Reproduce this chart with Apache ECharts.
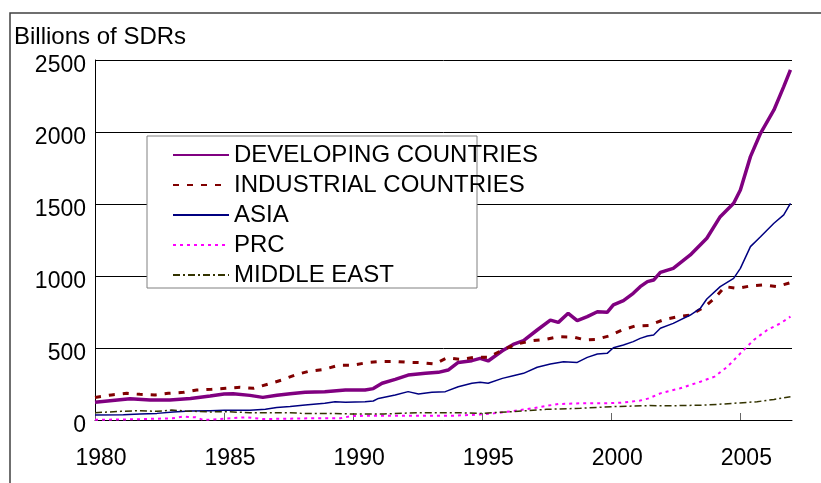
<!DOCTYPE html>
<html>
<head>
<meta charset="utf-8">
<script src="https://cdn.jsdelivr.net/npm/echarts@6/dist/echarts.min.js"></script>
<style>
  html, body { margin: 0; padding: 0; background: #fff; }
  #chart { width: 821px; height: 483px; }
</style>
</head>
<body>
<div id="chart"></div>
<script>
// values, billions of SDRs
const devYears = [1980.0, 1980.58, 1981.36, 1982.13, 1982.9, 1983.7, 1984.46, 1985.0, 1985.35, 1986.0, 1986.5, 1987.05, 1987.56, 1988.14, 1988.9, 1989.7, 1990.46, 1990.78, 1991.12, 1991.63, 1992.13, 1992.8, 1993.3, 1993.68, 1994.07, 1994.6, 1994.92, 1995.23, 1995.78, 1996.2, 1996.6, 1997.13, 1997.64, 1997.95, 1998.33, 1998.68, 1999.07, 1999.46, 1999.84, 2000.08, 2000.47, 2000.85, 2001.12, 2001.4, 2001.64, 2001.9, 2002.4, 2003.06, 2003.7, 2004.22, 2004.74, 2005.0, 2005.39, 2005.78, 2006.3, 2006.68, 2006.94]
const devValues = [123, 134, 148, 139, 139, 150, 167, 180, 183, 171, 157, 172, 183, 192, 197, 208, 208, 218, 255, 282, 312, 324, 331, 347, 400, 412, 428, 410, 481, 525, 551, 625, 694, 678, 741, 690, 718, 752, 748, 799, 829, 880, 926, 961, 972, 1025, 1053, 1146, 1262, 1412, 1505, 1597, 1829, 1991, 2153, 2315, 2431]

const indYears = [1980.0, 1980.64, 1981.23, 1981.74, 1982.33, 1982.84, 1983.43, 1983.94, 1984.52, 1985.07, 1985.62, 1986.14, 1986.72, 1987.24, 1987.82, 1988.29, 1988.89, 1989.43, 1989.95, 1990.53, 1991.08, 1991.63, 1992.18, 1992.66, 1993.15, 1993.63, 1994.15, 1994.7, 1995.23, 1995.78, 1996.36, 1996.94, 1997.45, 1997.95, 1998.54, 1998.99, 1999.42, 1999.9, 2000.42, 2000.93, 2001.45, 2002.07, 2002.59, 2003.08, 2003.62, 2004.0, 2004.4, 2004.9, 2005.39, 2005.9, 2006.42, 2006.94]
const indValues = [157, 174, 185, 178, 174, 185, 192, 208, 213, 220, 227, 220, 250, 278, 317, 338, 352, 380, 380, 398, 407, 407, 400, 398, 389, 431, 421, 435, 435, 486, 528, 551, 560, 579, 576, 556, 560, 583, 625, 653, 657, 699, 718, 729, 787, 845, 926, 914, 931, 938, 926, 954]

const asiaYears = [1980.0, 1981.1, 1981.74, 1982.4, 1983.03, 1983.68, 1984.46, 1985.0, 1986.0, 1986.6, 1987.04, 1987.56, 1988.14, 1988.9, 1989.3, 1989.7, 1990.46, 1990.78, 1990.98, 1991.63, 1992.13, 1992.53, 1993.05, 1993.57, 1994.07, 1994.6, 1994.92, 1995.23, 1995.78, 1996.2, 1996.6, 1997.13, 1997.64, 1998.15, 1998.68, 1999.07, 1999.46, 1999.84, 2000.08, 2000.47, 2000.85, 2001.12, 2001.4, 2001.64, 2001.9, 2002.4, 2003.06, 2003.45, 2003.7, 2004.22, 2004.74, 2005.0, 2005.39, 2005.78, 2006.3, 2006.68, 2006.94]
const asiaValues = [35, 37, 42, 46, 56, 62, 65, 67, 67, 74, 86, 93, 104, 116, 127, 123, 127, 132, 150, 174, 197, 181, 192, 197, 231, 255, 262, 255, 289, 308, 324, 366, 389, 405, 400, 435, 458, 463, 502, 521, 544, 567, 583, 590, 637, 671, 729, 776, 840, 926, 984, 1053, 1204, 1273, 1366, 1424, 1505]

const prcYears = [1980.0, 1981.0, 1982.0, 1983.0, 1983.4, 1983.9, 1984.2, 1985.0, 1985.88, 1986.5, 1987.5, 1988.3, 1989.5, 1989.95, 1991.2, 1992.5, 1993.85, 1994.6, 1994.92, 1995.44, 1996.2, 1996.94, 1997.45, 1997.95, 1998.8, 1999.84, 2000.36, 2001.12, 2001.45, 2001.9, 2002.67, 2003.45, 2004.0, 2004.5, 2005.0, 2005.52, 2006.04, 2006.55, 2006.94]
const prcValues = [2, 3, 7, 12, 23, 19, 0, 9, 19, 7, 9, 12, 12, 28, 30, 30, 30, 35, 39, 46, 62, 81, 97, 111, 116, 116, 120, 135, 150, 185, 220, 266, 301, 370, 463, 556, 625, 671, 718]

const meYears = [1980.0, 1981.0, 1981.74, 1982.4, 1982.97, 1983.5, 1984.4, 1985.0, 1986.0, 1987.56, 1988.0, 1989.0, 1989.95, 1991.2, 1992.5, 1994.0, 1994.92, 1996.2, 1997.5, 1998.8, 2000.08, 2001.4, 2002.4, 2003.7, 2004.74, 2005.65, 2006.3, 2006.94]
const meValues = [51, 60, 65, 60, 69, 63, 56, 58, 51, 51, 46, 46, 42, 42, 51, 51, 46, 58, 74, 81, 93, 100, 99, 104, 116, 127, 143, 162]

const yearTicks = [1980, 1985, 1990, 1995, 2000, 2005]
const yTicks = [0, 500, 1000, 1500, 2000, 2500]

const FONT = '"Liberation Sans", Arial, sans-serif'

function pairs(xs, ys) {
  return xs.map((x, i) => [x, ys[i]])
}

const seriesDefs = [
  {name: 'DEVELOPING COUNTRIES', xs: devYears, ys: devValues, color: '#800080', width: 3.5, type: 'solid'},
  {name: 'INDUSTRIAL COUNTRIES', xs: indYears, ys: indValues, color: '#800000', width: 3, type: [6, 8]},
  {name: 'ASIA', xs: asiaYears, ys: asiaValues, color: '#000080', width: 1.5, type: 'solid'},
  {name: 'PRC', xs: prcYears, ys: prcValues, color: '#ff00ff', width: 2, type: [3, 4]},
  {name: 'MIDDLE EAST', xs: meYears, ys: meValues, color: '#333300', width: 1.5, type: [7, 3, 2, 3]},
]

const chart = echarts.init(document.getElementById('chart'))

const option = {
  animation: false,
  backgroundColor: '#fff',
  textStyle: {fontFamily: FONT},
  graphic: [
    // outer frame, right/bottom edges fall off the canvas
    {type: 'rect', z: 0, shape: {x: 10, y: 13, width: 900, height: 600},
      style: {fill: 'none', stroke: '#404040', lineWidth: 1.5}},
    {type: 'text', z: 5, left: 14, top: 25,
      style: {text: 'Billions of SDRs', font: '24px ' + FONT, fill: '#000'}},
    // legend box (text runs past its right edge like in the original)
    {type: 'rect', z: 3, shape: {x: 147, y: 136, width: 330, height: 152},
      style: {fill: '#fff', stroke: '#808080', lineWidth: 1}},
  ],
  legend: {
    z: 10,
    orient: 'vertical',
    left: 172,
    top: 143,
    padding: 0,
    itemWidth: 56,
    itemHeight: 14,
    itemGap: 6,
    itemStyle: {opacity: 0},
    textStyle: {fontSize: 24, color: '#000', fontFamily: FONT},
    data: seriesDefs.map(s => s.name),
  },
  grid: {left: 95, right: 29, top: 60, bottom: 63},
  xAxis: {
    type: 'value',
    min: 1980,
    max: 2007,
    interval: 5,
    axisLine: {lineStyle: {color: '#000', width: 1}},
    axisTick: {inside: true, length: 7, customValues: yearTicks, lineStyle: {color: '#666'}},
    axisLabel: {customValues: yearTicks, fontSize: 23, color: '#000', margin: 27, padding: [0, 0, 0, 12], fontFamily: FONT,
      formatter: v => String(v)},
    splitLine: {show: false},
  },
  yAxis: {
    type: 'value',
    min: 0,
    max: 2500,
    interval: 500,
    axisLine: {show: true, lineStyle: {color: '#000', width: 1}},
    axisTick: {show: false},
    axisLabel: {fontSize: 23, color: '#000', margin: 9, verticalAlign: 'top', lineHeight: 12, fontFamily: FONT,
      formatter: v => yTicks.includes(v) ? String(v) : ''},
    splitLine: {lineStyle: {color: '#000', width: 1}},
  },
  series: seriesDefs.map(s => ({
    name: s.name,
    type: 'line',
    symbol: 'none',
    data: pairs(s.xs, s.ys),
    lineStyle: {color: s.color, width: s.width, type: s.type},
    itemStyle: {color: s.color},
  })),
}

chart.setOption(option)
</script>
</body>
</html>
